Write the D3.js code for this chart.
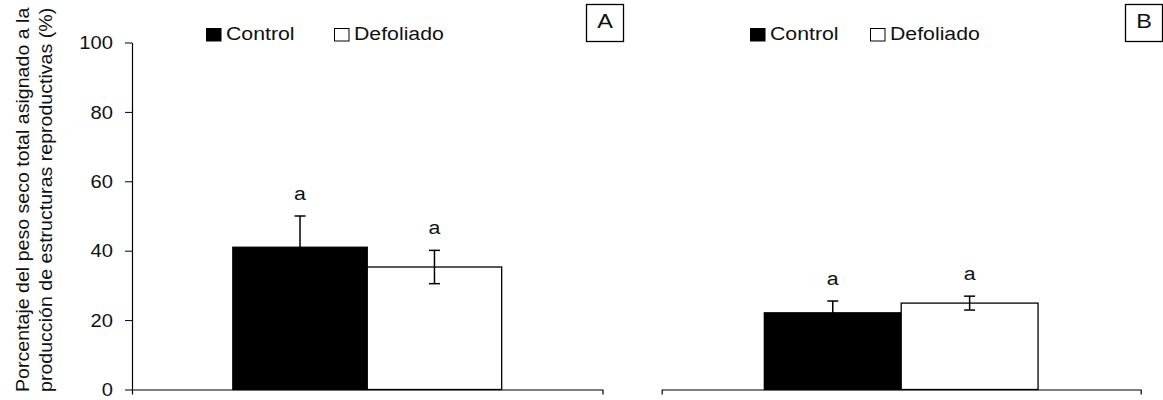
<!DOCTYPE html>
<html>
<head>
<meta charset="utf-8">
<script src="https://cdn.jsdelivr.net/npm/d3@7"></script>
<style>
  html, body { margin: 0; padding: 0; background: #fff; }
  svg { display: block; font-family: "Liberation Sans", Arial, sans-serif; }
</style>
</head>
<body>
<svg id="chart" width="1163" height="400"></svg>
<script>
// Reproductive allocation (% of total dry weight), two sites, Control vs Defoliado
const panels = ["A", "B"];
const groups = ["Control", "Defoliado"];
const controlMean = [41.0, 22.1];
const controlSE = [9.0, 3.4];
const defoliadoMean = [35.3, 24.9];
const defoliadoSE = [4.8, 2.0];
const controlLetters = ["a", "a"];
const defoliadoLetters = ["a", "a"];
const yTicks = [0, 20, 40, 60, 80, 100];
const yTitle = ["Porcentaje del peso seco total asignado a la",
                "producción de estructuras reproductivas (%)"];

const SX = 1.12;               // glyphs drawn slightly wide
const svg = d3.select("#chart");

const y = d3.scaleLinear().domain([0, 100]).range([389.5, 42.5]);

const layout = [
  { x0: 132, x1: 602.5, yAxis: true, sq: [206, 334], box: 586 },
  { x0: 661.7, x1: 1140.7, yAxis: false, sq: [750, 870], box: 1125 }
];

function label(g, x, yy, str, size, anchor, rot) {
  return g.append("text")
    .attr("transform", `translate(${x},${yy})` + (rot ? ` rotate(${rot})` : "") + ` scale(${SX},1)`)
    .attr("text-anchor", anchor || "start")
    .attr("font-size", size)
    .attr("fill", "#111")
    .text(str);
}

panels.forEach((p, i) => {
  const L = layout[i];
  const g = svg.append("g");

  const x0 = d3.scaleBand().domain([p]).range([L.x0, L.x1]);
  const x1 = d3.scaleBand().domain(groups)
    .range([0, x0.bandwidth()]).paddingInner(0).paddingOuter(0.75);

  const rows = [
    { key: "Control", mean: controlMean[i], se: controlSE[i], letter: controlLetters[i], fill: "#000" },
    { key: "Defoliado", mean: defoliadoMean[i], se: defoliadoSE[i], letter: defoliadoLetters[i], fill: "#fff" }
  ];

  // bars
  g.selectAll("rect.bar").data(rows).join("rect")
    .attr("class", "bar")
    .attr("x", d => x0(p) + x1(d.key))
    .attr("width", x1.bandwidth())
    .attr("y", d => y(d.mean))
    .attr("height", d => y(0) - y(d.mean))
    .attr("fill", d => d.fill)
    .attr("stroke", "#000")
    .attr("stroke-width", 1.3);

  // error bars
  const cap = 5.5;
  const eb = g.selectAll("g.err").data(rows).join("g").attr("class", "err")
    .attr("stroke", "#000").attr("stroke-width", 1.5);
  const cx = d => x0(p) + x1(d.key) + x1.bandwidth() / 2;
  eb.append("line").attr("x1", cx).attr("x2", cx)
    .attr("y1", d => y(d.mean + d.se)).attr("y2", d => y(d.mean - d.se));
  eb.append("line").attr("x1", d => cx(d) - cap).attr("x2", d => cx(d) + cap)
    .attr("y1", d => y(d.mean + d.se)).attr("y2", d => y(d.mean + d.se));
  eb.append("line").attr("x1", d => cx(d) - cap).attr("x2", d => cx(d) + cap)
    .attr("y1", d => y(d.mean - d.se)).attr("y2", d => y(d.mean - d.se));

  // significance letters
  rows.forEach(d => label(g, cx(d), y(d.mean + d.se) - 16, d.letter, 19, "middle"));

  // x axis with end ticks
  g.append("g")
    .attr("transform", `translate(0,${y(0)})`)
    .call(d3.axisBottom(x0).tickValues([]).tickSizeOuter(5))
    .select(".domain").attr("stroke", "#000").attr("stroke-width", 1.2);

  // y axis (left panel only)
  if (L.yAxis) {
    const ya = g.append("g")
      .attr("transform", `translate(${L.x0},0)`)
      .call(d3.axisLeft(y).tickValues(yTicks).tickSizeInner(7).tickSizeOuter(0));
    ya.select(".domain").attr("stroke", "#000").attr("stroke-width", 1.2);
    ya.selectAll(".tick line").attr("stroke", "#000");
    ya.selectAll(".tick text")
      .attr("x", null).attr("dy", "0.34em")
      .attr("transform", `translate(-19,0) scale(${SX},1)`)
      .attr("font-size", 18).attr("font-family", "Liberation Sans, Arial, sans-serif")
      .attr("fill", "#111");
  }

  // legend
  const lg = g.append("g");
  rows.forEach((d, j) => {
    lg.append("rect")
      .attr("x", L.sq[j] + 0.5).attr("y", 28.5)
      .attr("width", 14.5).attr("height", 12.5)
      .attr("fill", d.fill).attr("stroke", "#000").attr("stroke-width", 1);
    label(lg, L.sq[j] + 20, 40, d.key, 19, "start");
  });

  // panel letter box
  g.append("rect")
    .attr("x", L.box + 0.5).attr("y", 4.5)
    .attr("width", 37).attr("height", 37)
    .attr("fill", "none").attr("stroke", "#000").attr("stroke-width", 1.3);
  label(g, L.box + 19, 28, p, 21, "middle");
});

// y axis title
yTitle.forEach((t, k) => {
  label(svg, 29 + k * 23, 392, t, 17.5, "start", -90);
});
</script>
</body>
</html>
